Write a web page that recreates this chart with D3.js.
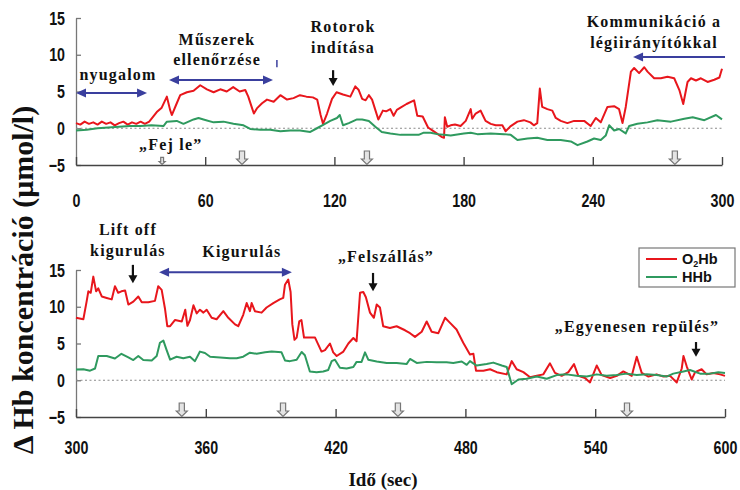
<!DOCTYPE html>
<html>
<head>
<meta charset="utf-8">
<script src="https://cdn.jsdelivr.net/npm/d3@7"></script>
<style>
  body { margin: 0; background: #fff; }
  svg { display: block; }
  .tick text { font-family: "Liberation Sans", Arial, sans-serif; font-weight: bold; }
  .note { font-family: "Liberation Serif", "Times New Roman", serif; font-weight: bold; font-size: 16px; letter-spacing: 1.2px; fill: #111; }
</style>
</head>
<body>
<svg id="chart" width="740" height="490"></svg>
<script>
// ---- data: time (s), concentration change (µmol/l) ----
const yTicks = [-5, 0, 5, 10, 15];
const topTicks = [0, 60, 120, 180, 240, 300];
const bottomTicks = [300, 360, 420, 480, 540, 600];

const topO2Hb = [
  [0,0.7],[2,0.5],[4,0.9],[6,0.6],[8,0.8],[10,0.5],[12,0.9],[14,0.6],[16,0.8],[18,0.4],[20,0.7],
  [22,0.9],[24,0.5],[26,0.8],[28,0.6],[30,0.9],[32,0.6],[34,0.9],[37.5,2.2],[39.8,2.8],[42.2,4.3],
  [43.7,2.5],[44.5,1.8],[46.8,3.4],[48.4,4.5],[51.5,4.9],[54.6,5.1],[57.7,5.85],[60.8,5.3],[63.9,4.9],
  [67,5.3],[70,5.0],[73,5.6],[76,5.0],[78.6,5.2],[80,4.3],[81.8,2.7],[82.6,2.0],[84,2.7],[86.4,3.4],
  [88.7,3.9],[91.8,3.6],[94.9,4.5],[98,3.9],[101,4.1],[104,4.5],[107,4.3],[110,4.2],[112,3.9],
  [113.6,1.8],[114.7,0.6],[116.6,2.0],[118.9,4.0],[121,4.9],[124,4.6],[127.4,4.3],[129.7,5.7],
  [131.3,5.2],[132.9,4.0],[134.5,3.8],[136,4.5],[137.5,3.9],[139,2.5],[140.4,1.2],[142.5,2.4],
  [144,2.3],[146,2.6],[147.5,1.7],[149,2.5],[150.7,2.8],[153.5,3.3],[157,3.8],[158.5,1.7],[161,1.6],
  [163.5,0.1],[166,-0.4],[168,-0.8],[170,-1.2],[170.9,-1.3],[171.3,1.5],[172.4,0.2],[174,0.4],
  [176,0.5],[178.6,0.3],[181,1.0],[183.3,2.6],[184,1.3],[185.6,2.0],[187.9,2.4],[189.2,1.6],
  [190.2,1.0],[192.6,0.6],[194.9,0.4],[198,0.4],[199.5,-0.4],[201.9,0.3],[205,0.9],[208,1.1],
  [211,0.8],[212.6,0.4],[214.2,0.7],[215.4,5.4],[216.5,2.9],[218.9,2.6],[221.2,2.4],[222.8,1.4],
  [225.1,1.0],[228.2,0.7],[231.3,1.0],[236,1.0],[239,0.3],[241.4,1.4],[243.7,0.8],[246.8,2.9],
  [249.9,3.0],[252.2,2.6],[253.8,0.7],[255.3,2.9],[257.7,7.7],[259.2,8.2],[261.5,7.5],[263.9,8.3],
  [265.4,7.7],[268.5,6.8],[271.6,6.8],[274.7,7.0],[277.8,6.8],[280.2,5.2],[282,3.3],[284,6.3],
  [285.6,6.8],[287.9,6.5],[290.2,6.8],[293.3,6.3],[296.4,6.6],[298.8,6.9],[300,8.1]
];
const topHHb = [
  [0,-0.3],[5,-0.2],[10,0.0],[15,0.1],[20,0.2],[25,0.3],[30,0.3],[35,0.4],[40.6,0.3],[42.2,0.9],
  [46.8,1.0],[49.9,0.6],[54.6,1.2],[56.9,1.4],[59.2,1.2],[63.9,0.8],[68.5,0.9],[73.1,0.6],[77.8,0.4],
  [80.9,-0.1],[85.6,-0.2],[90.2,-0.2],[94.9,-0.4],[99.5,-0.3],[104,-0.3],[108.8,-0.5],[111.9,0.0],
  [115,0.5],[118.1,1.0],[121.2,1.4],[122.5,1.8],[124,0.4],[126.7,0.7],[130.5,1.2],[132.9,1.2],
  [136,1.0],[139,0.2],[142,-0.5],[146,-0.7],[150.7,-0.9],[155.3,-0.9],[159.1,-0.9],[161.5,-0.6],
  [164.7,-0.6],[167.7,-0.8],[170.8,-0.9],[174,-1.0],[180.1,-0.7],[183.3,-0.6],[186.4,-0.8],
  [192.6,-0.7],[198.8,-0.8],[201.9,-0.9],[205,-1.6],[209.7,-1.4],[214.2,-1.3],[218.9,-1.6],
  [225.1,-1.6],[229.8,-1.8],[232.9,-2.3],[237.5,-1.8],[240.6,-1.4],[243.7,-1.6],[246,-1.0],
  [247.6,0.4],[249.9,-0.3],[252.2,-0.1],[255.3,-0.7],[256.9,0.3],[260.7,0.6],[265.4,0.8],[270,1.1],
  [276.3,0.9],[282.5,1.3],[286.4,1.5],[291.8,1.1],[297.2,1.8],[300,1.2]
];
const bottomO2Hb = [
  [300,8.5],[303.4,8.3],[304.9,10.7],[305.7,12.1],[306.8,11.9],[308,14.1],[309.3,12.1],[310.3,12.5],
  [311.9,11.4],[314.2,11.2],[316.5,11.0],[318,12.8],[319.5,11.9],[321,12.1],[322.7,12.2],[324.2,10.3],
  [326.5,10.7],[328.8,11.4],[330.4,10.6],[333.4,10.6],[336.5,10.8],[338,12.8],[339.6,12.3],[341.1,9.8],
  [342.2,7.35],[343.5,7.35],[345.8,8.2],[348.9,8.0],[350.5,9.6],[351.5,7.4],[352.7,8.2],[354.3,10.2],
  [355.8,9.1],[357.3,9.6],[358.9,9.2],[360.4,9.6],[362.7,8.5],[365,8.3],[368.1,9.4],[370.4,8.5],
  [373.5,7.6],[375,7.35],[377.3,8.9],[378.9,10.5],[380.4,9.4],[381.2,10.5],[382.7,9.4],[385.8,9.2],
  [388.1,9.9],[391.2,10.5],[394.2,11.0],[395.8,11.2],[396.6,13.0],[398.1,13.7],[399.2,12.0],[400,7.6],
  [401,5.5],[402,5.8],[403.2,8.0],[404.2,8.2],[405.4,5.8],[407.4,5.8],[410.5,5.8],[412,4.85],
  [413.5,3.9],[415.1,4.1],[417.4,5.0],[418.9,3.8],[420.5,3.3],[423.6,3.9],[425.9,5.0],[428.2,5.75],
  [429.7,5.3],[431.3,11.9],[432.8,12.0],[434,11.3],[435.9,9.2],[437.7,8.5],[439,10.3],[440.5,9.9],
  [442,7.35],[445.1,7.1],[448.2,7.35],[452.1,6.8],[454.4,6.4],[456.7,5.9],[459.8,6.6],[462.1,8.0],
  [464.4,6.6],[467.5,6.4],[470.6,8.5],[472.9,7.8],[475.9,6.9],[479,5.1],[482.1,3.5],[483.7,3.6],
  [484.9,1.3],[488.3,1.3],[491.4,1.5],[494.5,1.1],[499.1,0.8],[501.4,2.6],[503.7,1.5],[506.8,1.1],
  [509.9,0.4],[513,0.6],[516,0.8],[519.1,2.3],[521.4,1.0],[524.5,0.6],[527.6,1.1],[530.2,2.2],
  [532.2,0.6],[535.3,0.3],[537.6,-0.3],[540.7,2.0],[543,0.7],[546.9,0.3],[550,0.6],[553,1.2],
  [556.9,0.6],[559.2,3.2],[561.5,1.0],[564.6,0.5],[568.4,0.8],[571.5,0.5],[574.6,0.6],[577.7,-0.3],
  [580,1.6],[580.8,3.3],[582.3,1.9],[584.6,0.1],[586.2,1.1],[589.2,1.5],[591.5,0.8],[594.6,1.0],
  [597.7,0.8],[600,0.6]
];
const bottomHHb = [
  [300,1.45],[303.4,1.5],[306.5,1.3],[308.8,1.6],[310.3,3.3],[314.2,3.3],[318,2.95],[321,3.6],
  [324.2,3.1],[326.5,2.75],[328.8,3.3],[331.1,2.75],[335,2.7],[337.3,3.3],[338.8,5.1],[340.4,5.4],
  [341.9,4.1],[343.5,2.8],[346.5,3.2],[349.6,3.0],[352.7,3.2],[355,2.6],[357.3,3.9],[359.6,3.7],
  [362,3.2],[366.6,3.1],[371.2,3.0],[374.3,3.0],[377.3,3.2],[380.4,3.75],[383.5,3.6],[387.4,3.8],
  [390.4,3.9],[395,3.8],[396.6,2.7],[398.9,2.6],[402,2.8],[404.3,3.85],[405.8,3.4],[408.1,1.2],
  [411.2,1.1],[414.3,1.2],[416.6,1.4],[418.2,2.6],[419.7,2.8],[422,1.7],[425.1,1.6],[428.2,1.8],
  [429.7,2.5],[432,2.5],[433.6,3.8],[435.1,2.8],[439,2.55],[443.6,2.35],[448.2,2.35],[452.8,2.2],
  [454.4,2.9],[457.5,2.35],[462.1,2.5],[466.7,2.45],[471.3,2.45],[474.4,2.35],[478.3,2.55],
  [480.6,2.1],[482.1,2.6],[485.2,2.0],[489.8,2.2],[492.9,2.4],[496.8,2.0],[499.1,1.8],[501.4,-0.55],
  [504.5,0.1],[508.3,0.2],[513,0.5],[517.6,0.2],[522.2,0.7],[526.8,0.8],[531.4,0.6],[536.1,0.5],
  [540.7,0.8],[545.3,0.6],[549.9,0.7],[554.6,0.9],[559.2,0.7],[563.8,0.8],[568.4,0.7],[573,0.5],
  [576.1,0.9],[580.8,1.2],[583.8,1.4],[588.5,0.9],[593.1,0.9],[596.9,1.1],[600,1.0]
];

// event markers sitting on the time axis
const topMarkers = [77.1, 135.1, 278.1];
const topSmallMarker = [40];
const bottomMarkers = [348.9, 395.7, 448.8, 554.7];

// annotations: text lines [t, v, label]
const topLabels = [
  [19.5, 6.56, "nyugalom"],
  [65.5, 11.3, "Műszerek"], [65.5, 8.6, "ellenőrzése"],
  [124, 13.1, "Rotorok"], [124, 10.2, "indítása"],
  [268.4, 13.8, "Kommunikáció a"], [268.4, 10.9, "légiirányítókkal"],
  [44, -3.0, "„Fej le”"]
];
const bottomLabels = [
  [324, 19.76, "Lift off"], [324, 16.9, "kigurulás"],
  [376.7, 16.8, "Kigurulás"],
  [443.3, 16.1, "„Felszállás”"],
  [559.3, 6.6, "„Egyenesen repülés”"]
];
// blue span arrows [tStart, tEnd, v, heads]
const topSpans = [[0, 33, 4.8, "both"], [43.2, 91.5, 6.56, "both"], [258.7, 301.4, 9.7, "left"]];
const bottomSpans = [[338.4, 399.8, 14.7, "both"]];
// black event arrows [t, vFrom, vTo]
const topPointers = [[119.4, 7.9, 5.75]];
const bottomPointers = [[326.3, 15.7, 13.2], [437.3, 14.6, 12.1], [586.6, 5.2, 3.2]];

const RED = "#e8161c", GREEN = "#2f9a5f", BLUE = "#3a3f9e";

const svg = d3.select("#chart");

function drawPanel(cfg) {
  const x = d3.scaleLinear().domain(cfg.xDomain).range([76, cfg.xRight]);
  const y = d3.scaleLinear().domain([-5, 15]).range([cfg.yBottom, cfg.yBottom - 147]);
  const g = svg.append("g");

  // left axis, ticks pointing inward
  const ya = g.append("g").attr("transform", `translate(76,0)`)
    .call(d3.axisLeft(y).tickValues(yTicks).tickSizeInner(-5).tickSizeOuter(0).tickPadding(11));
  ya.select(".domain").attr("stroke", "#777").attr("stroke-width", 1.3);
  ya.selectAll(".tick line").attr("stroke", "#777").attr("stroke-width", 1.3);
  ya.selectAll(".tick text").attr("font-size", 19).attr("fill", "#111")
    .attr("x", -11 / 0.75).attr("transform", "scale(0.75,1)");

  // bottom axis, ticks pointing up
  const xa = g.append("g").attr("transform", `translate(0,${cfg.yBottom})`)
    .call(d3.axisBottom(x).tickValues(cfg.ticks).tickSize(-8).tickSizeOuter(0).tickPadding(cfg.xPad));
  xa.select(".domain").attr("stroke", "#444").attr("stroke-width", 1.4);
  xa.selectAll(".tick line").attr("stroke", "#444").attr("stroke-width", 1.4);
  xa.selectAll(".tick text").attr("font-size", 19).attr("fill", "#111").attr("transform", "scale(0.75,1)");

  // zero reference
  g.append("line").attr("x1", x(cfg.xDomain[0])).attr("x2", x(cfg.xDomain[1]))
    .attr("y1", y(0)).attr("y2", y(0))
    .attr("stroke", "#8a8a8a").attr("stroke-width", 1).attr("stroke-dasharray", "2,2.5");

  // event markers (hollow block arrows)
  const block = (t, s) => {
    const cx = x(t), by = y(-5);
    const p = `M${cx - 2.6 * s},${by - 14 * s} L${cx + 2.6 * s},${by - 14 * s} L${cx + 2.6 * s},${by - 6 * s}
      L${cx + 5.5 * s},${by - 6 * s} L${cx},${by - 0.5} L${cx - 5.5 * s},${by - 6 * s} L${cx - 2.6 * s},${by - 6 * s} Z`;
    g.append("path").attr("d", p).attr("fill", "#e4e4e4").attr("stroke", "#777").attr("stroke-width", 1.2);
  };
  cfg.markers.forEach(t => block(t, 1));
  (cfg.small || []).forEach(t => block(t, 0.55));

  // series
  const line = d3.line().x(d => x(d[0])).y(d => y(d[1]));
  g.append("path").datum(cfg.o2).attr("d", line).attr("fill", "none")
    .attr("stroke", RED).attr("stroke-width", 2).attr("stroke-linejoin", "round");
  g.append("path").datum(cfg.hhb).attr("d", line).attr("fill", "none")
    .attr("stroke", GREEN).attr("stroke-width", 2).attr("stroke-linejoin", "round");

  // annotation text
  cfg.labels.forEach(([t, v, s]) => {
    g.append("text").attr("class", "note").attr("x", x(t)).attr("y", y(v))
      .attr("text-anchor", "middle").text(s);
  });

  // blue span arrows
  cfg.spans.forEach(([t0, t1, v, heads]) => {
    const x0 = x(t0), x1 = x(t1), yy = y(v);
    const left = heads === "both" || heads === "left";
    const right = heads === "both";
    g.append("line").attr("x1", x0 + (left ? 6 : 0)).attr("x2", x1 - (right ? 6 : 0))
      .attr("y1", yy).attr("y2", yy).attr("stroke", BLUE).attr("stroke-width", 2);
    if (left) g.append("path").attr("d", `M${x0},${yy} L${x0 + 10},${yy - 4.5} L${x0 + 10},${yy + 4.5} Z`).attr("fill", BLUE);
    if (right) g.append("path").attr("d", `M${x1},${yy} L${x1 - 10},${yy - 4.5} L${x1 - 10},${yy + 4.5} Z`).attr("fill", BLUE);
  });

  // black pointers
  cfg.pointers.forEach(([t, v0, v1]) => {
    const xx = x(t), y0 = y(v0), y1 = y(v1);
    g.append("line").attr("x1", xx).attr("x2", xx).attr("y1", y0).attr("y2", y1 - 6)
      .attr("stroke", "#111").attr("stroke-width", 2.2);
    g.append("path").attr("d", `M${xx},${y1} L${xx - 4.5},${y1 - 8} L${xx + 4.5},${y1 - 8} Z`).attr("fill", "#111");
  });

  return { x, y, g };
}

const topPanel = drawPanel({
  xDomain: [0, 300], xRight: 722, yBottom: 165, ticks: topTicks, xPad: 29,
  o2: topO2Hb, hhb: topHHb, markers: topMarkers, small: topSmallMarker,
  labels: topLabels, spans: topSpans, pointers: topPointers
});
// small blue stroke next to the instrument-check label
topPanel.g.append("line").attr("x1", topPanel.x(93.3)).attr("x2", topPanel.x(93.3))
  .attr("y1", topPanel.y(9.3)).attr("y2", topPanel.y(8.3)).attr("stroke", BLUE).attr("stroke-width", 1.5);

const bottomPanel = drawPanel({
  xDomain: [300, 600], xRight: 725, yBottom: 417, ticks: bottomTicks, xPad: 24,
  o2: bottomO2Hb, hhb: bottomHHb, markers: bottomMarkers,
  labels: bottomLabels, spans: bottomSpans, pointers: bottomPointers
});

// legend
const lg = svg.append("g").attr("transform", "translate(639,248)");
lg.append("rect").attr("width", 96).attr("height", 39).attr("fill", "#fff").attr("stroke", "#777").attr("stroke-width", 1.2);
const legendItems = [["O", "2", "Hb", RED, 11], ["HHb", "", "", GREEN, 29]];
legendItems.forEach(([a, sub, b, c, yy]) => {
  lg.append("line").attr("x1", 7).attr("x2", 38).attr("y1", yy).attr("y2", yy).attr("stroke", c).attr("stroke-width", 2);
  const t = lg.append("text").attr("x", 43).attr("y", yy + 5)
    .attr("font-family", "Liberation Sans, Arial, sans-serif").attr("font-weight", "bold")
    .attr("font-size", 14.5).attr("fill", "#111");
  t.append("tspan").text(a);
  if (sub) {
    t.append("tspan").attr("font-size", 9).attr("dy", 3).text(sub);
    t.append("tspan").attr("dy", -3).text(b);
  }
});

// axis titles
svg.append("text").attr("transform", "translate(33,280) rotate(-90)")
  .attr("text-anchor", "middle")
  .attr("font-family", "Liberation Serif, Times New Roman, serif").attr("font-weight", "bold")
  .attr("font-size", 30).attr("fill", "#111")
  .text("Δ Hb koncentráció (μmol/l)");
svg.append("text").attr("x", 383).attr("y", 486).attr("text-anchor", "middle")
  .attr("font-family", "Liberation Serif, Times New Roman, serif").attr("font-weight", "bold")
  .attr("font-size", 19).attr("fill", "#111")
  .text("Idő (sec)");
</script>
</body>
</html>
